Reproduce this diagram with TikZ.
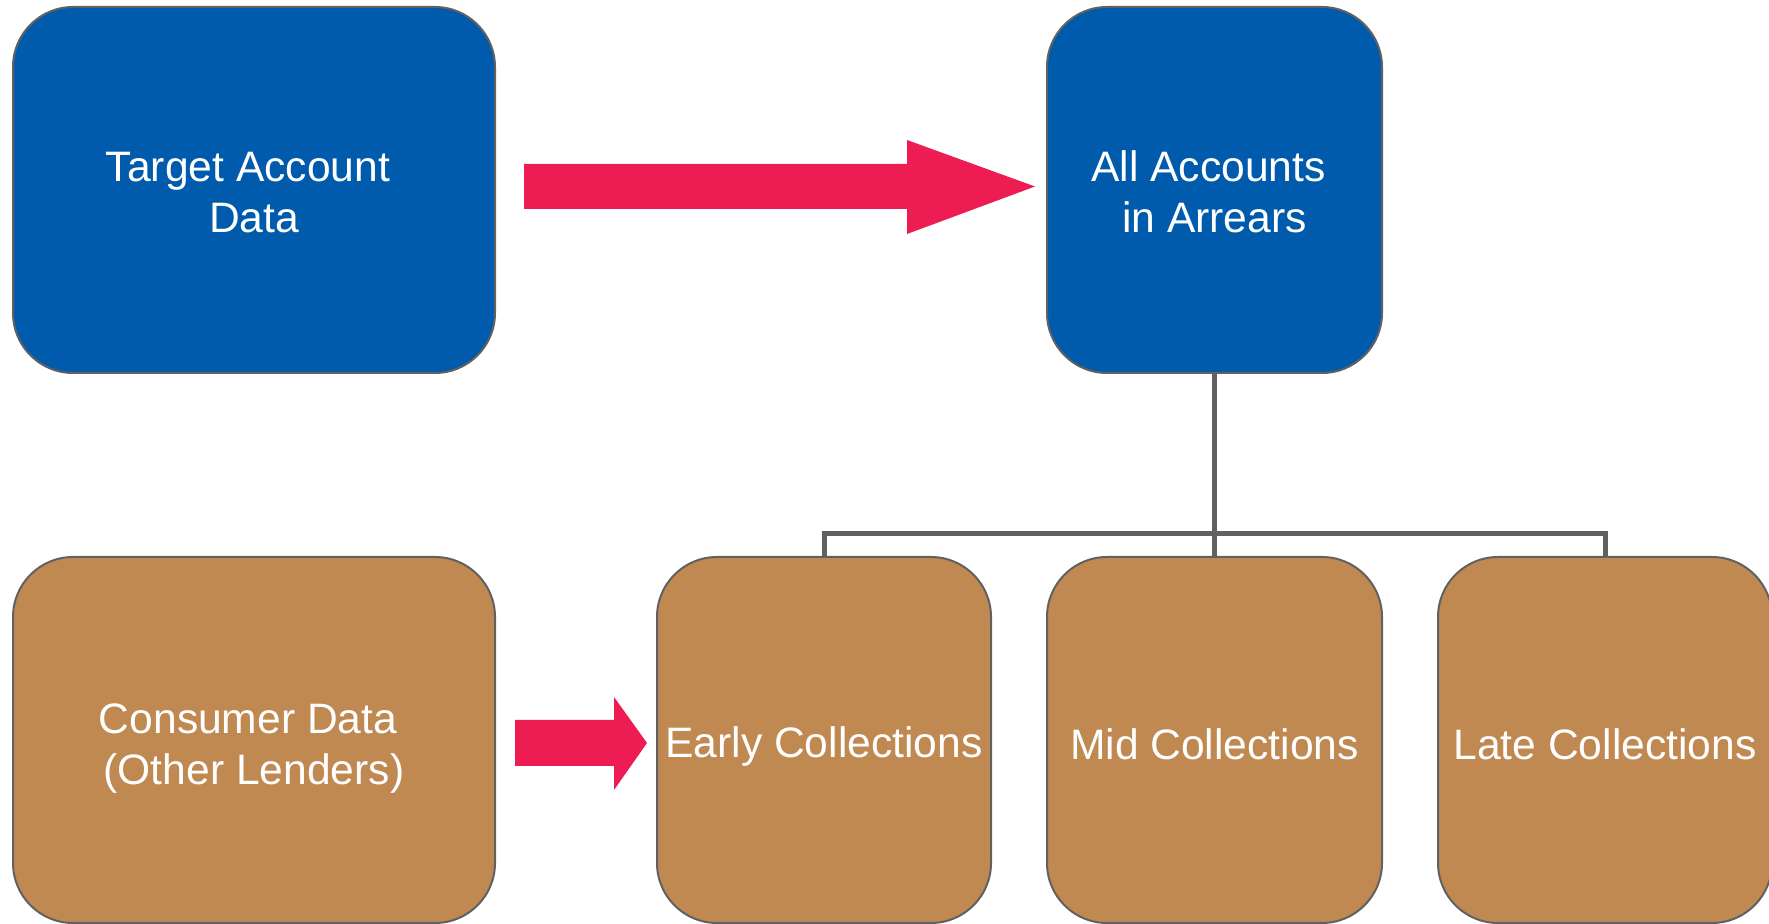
\documentclass[tikz,border=0pt]{standalone}
\usepackage{fontspec}
\setmainfont{Liberation Sans}
\usetikzlibrary{positioning}

\definecolor{boxblue}{RGB}{0,91,172}
\definecolor{boxbrown}{RGB}{191,137,81}
\definecolor{arrowred}{RGB}{237,28,82}
\definecolor{linegray}{RGB}{97,97,97}

\tikzset{
  card/.style={draw=linegray, line width=1pt, rounded corners=30pt,
    inner sep=0pt, minimum height=183pt},
  bluecard/.style={card, fill=boxblue},
  browncard/.style={card, fill=boxbrown},
  cardtext/.style={text=white, align=center, inner sep=0pt,
    font=\fontsize{21.3}{25.6}\selectfont},
  link/.style={draw=linegray, line width=2.5pt},
}

\begin{document}
\begin{tikzpicture}[x=0.5pt,y=0.5pt,yscale=-1]
\useasboundingbox (0,0) rectangle (1769,924);

% Top row
\node[bluecard, minimum width=241pt] (target) at (254,190) {};
\node[bluecard, minimum width=167.5pt] (arrears) at (1214.5,190) {};

% Bottom row
\node[browncard, minimum width=241pt] (consumer) at (254,740) {};
\node[browncard, minimum width=167pt] (early) at (824,740) {};
\node[browncard, minimum width=167.5pt] (mid) at (1214.5,740) {};
\node[browncard, minimum width=167pt] (late) at (1605,740) {};

% Text Nodes
\node[cardtext] (target-txt) at ([yshift=1.1pt]target.center) {Target Account\hspace*{0.28em}\\Data};
\node[cardtext] (arrears-txt) at ([yshift=0.9pt]arrears.center) {All Accounts\hspace*{0.28em}\\in Arrears};
\node[cardtext] (consumer-txt) at ([yshift=4.2pt]consumer.center) {Consumer Data\hspace*{0.28em}\\(Other Lenders)};
\node[cardtext] (early-txt) at ([yshift=3.4pt]early.center) {Early Collections};
\node[cardtext] (mid-txt) at ([yshift=1.9pt]mid.center) {Mid Collections};
\node[cardtext] (late-txt) at ([yshift=1.9pt]late.center) {Late Collections};

% Tree lines
\coordinate (bar) at (0,534);
\draw[link] (early.north) -- (early.north |- bar) -- (late.north |- bar) -- (late.north);
\draw[link] (arrears.south) -- (mid.north);

% Block arrows
\fill[arrowred] (524,164) -- (907,164) -- (907,140) -- (1035,186.5) -- (907,234) -- (907,209) -- (524,209) -- cycle;
\fill[arrowred] (515,720) -- (614,720) -- (614,697) -- (647,743) -- (614,790) -- (614,766) -- (515,766) -- cycle;

\end{tikzpicture}
\end{document}
